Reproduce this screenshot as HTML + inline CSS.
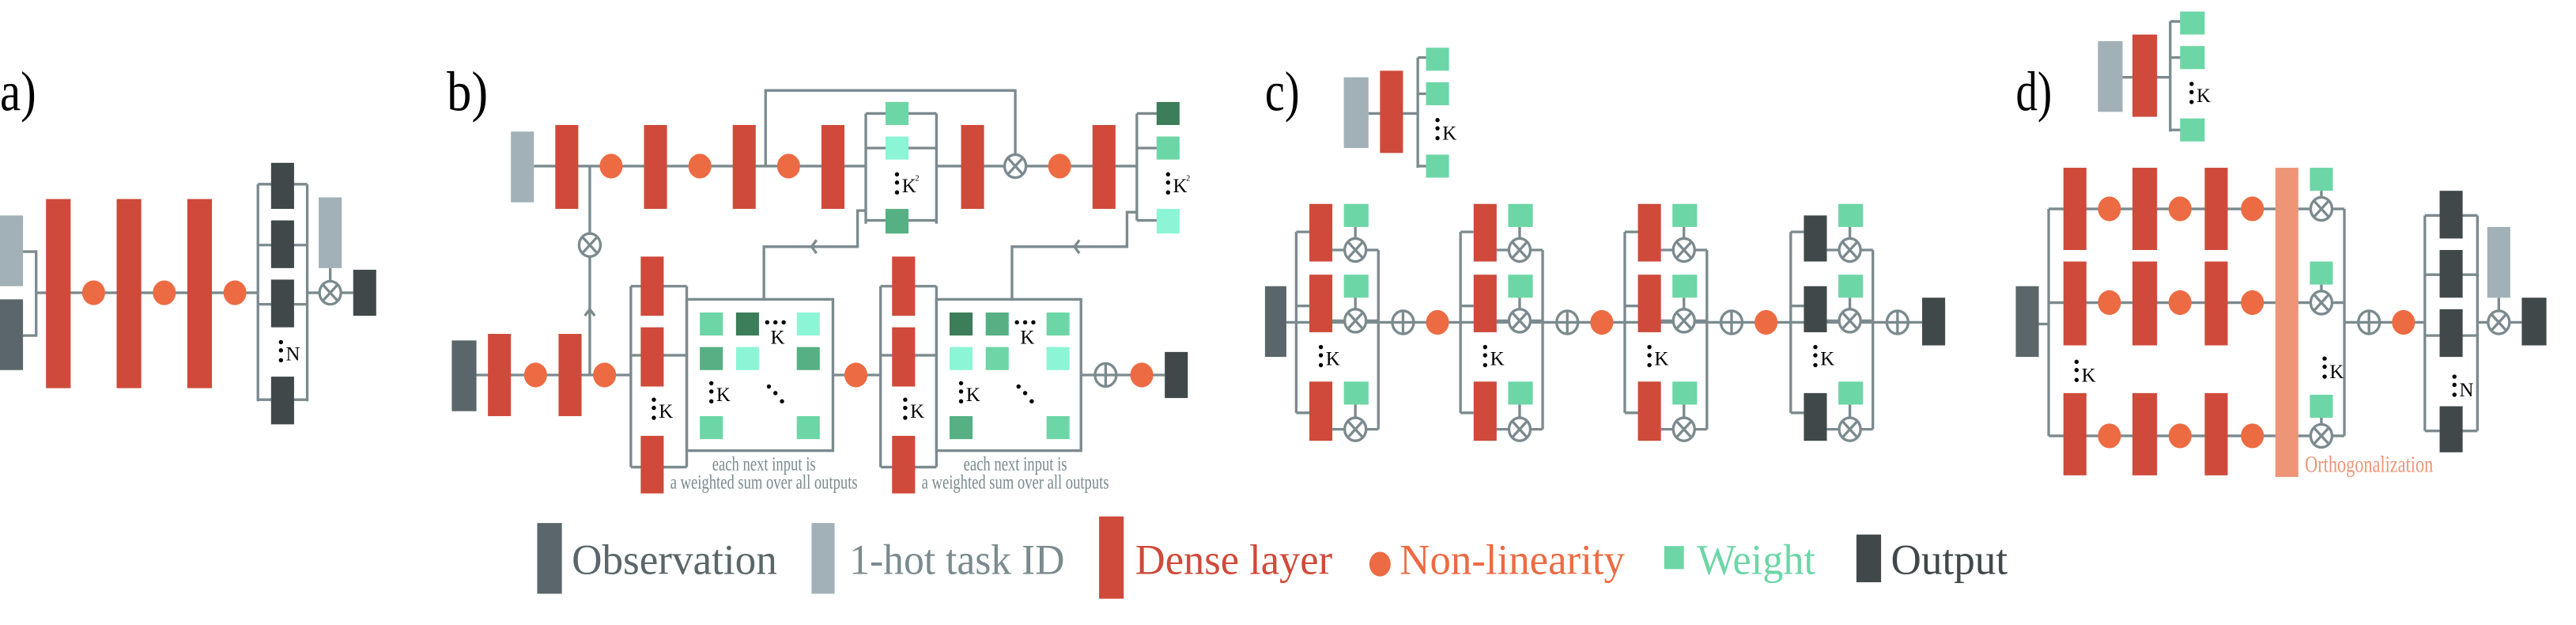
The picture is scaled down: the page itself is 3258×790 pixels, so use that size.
<!DOCTYPE html>
<html><head><meta charset="utf-8"><style>html,body{margin:0;padding:0;background:#fff}svg{display:block}svg text{font-family:"Liberation Serif","DejaVu Serif",serif}</style></head>
<body>
<svg xmlns="http://www.w3.org/2000/svg" xmlns:xlink="http://www.w3.org/1999/xlink" width="3258" height="790" viewBox="0 0 1568 380" preserveAspectRatio="none" style="font-family:'Liberation Serif',serif">
<defs>
<g id="ot"><ellipse rx="6.5" ry="7" fill="#fff" stroke="#7b8a8e" stroke-width="1.6"/><path d="M-4.4,-4.8L4.4,4.8M4.4,-4.8L-4.4,4.8" stroke="#7b8a8e" stroke-width="1.6"/></g>
<g id="op"><ellipse rx="6.5" ry="7" fill="#fff" stroke="#7b8a8e" stroke-width="1.6"/><path d="M0,-7V7M-6.5,0H6.5" stroke="#7b8a8e" stroke-width="1.6"/></g>
<ellipse id="nl" rx="7" ry="7.5" fill="#ec6b43"/>
<g id="vd" fill="#000"><circle cx="0" cy="0" r="1.3"/><circle cx="0" cy="5" r="1.3"/><circle cx="0" cy="11" r="1.3"/></g>
</defs>

<g font-size="34" fill="#000">
<text x="0" y="67" textLength="22" lengthAdjust="spacingAndGlyphs">a)</text>
<text x="272" y="67" textLength="25" lengthAdjust="spacingAndGlyphs">b)</text>
<text x="770" y="67" textLength="21" lengthAdjust="spacingAndGlyphs">c)</text>
<text x="1227" y="67" textLength="22" lengthAdjust="spacingAndGlyphs">d)</text>
</g>

<!-- Panel a -->
<g stroke="#7b8a8e" stroke-width="1.6" fill="none">
<polyline points="14,153 22,153 22,204 14,204"/>
<line x1="22" y1="178" x2="157" y2="178"/>
<line x1="157" y1="112" x2="157" y2="244"/><line x1="187" y1="112" x2="187" y2="244"/>
<path d="M157,112H187M157,149H187M157,185H187M157,243H187"/>
<line x1="187" y1="178" x2="215" y2="178"/>
<line x1="201" y1="163" x2="201" y2="172"/>
</g>
<rect x="0" y="131" width="14" height="43" fill="#a2b1b7"/>
<rect x="0" y="182" width="14" height="43" fill="#5a6669"/>
<g fill="#cf4a3a"><rect x="28" y="121" width="15" height="115"/><rect x="71" y="121" width="15" height="115"/><rect x="114" y="121" width="15" height="115"/></g>
<use xlink:href="#nl" x="57" y="178"/><use xlink:href="#nl" x="100" y="178"/><use xlink:href="#nl" x="143" y="178"/>
<g fill="#40484a"><rect x="165" y="99" width="14" height="28"/><rect x="165" y="134" width="14" height="29"/><rect x="165" y="170" width="14" height="29"/><rect x="165" y="229" width="14" height="29"/><rect x="215" y="164" width="14" height="28"/></g>
<use xlink:href="#vd" x="171" y="208"/><text x="174" y="219" font-size="12">N</text>
<rect x="194" y="120" width="14" height="43" fill="#a2b1b7"/>
<use xlink:href="#ot" x="201" y="178"/>

<!-- Panel b -->
<g stroke="#7b8a8e" stroke-width="1.6" fill="none">
<line x1="325" y1="101" x2="527" y2="101"/><line x1="570" y1="101" x2="692" y2="101"/>
<polyline points="466,101 466,55 618,55 618,94"/>
<line x1="527" y1="69" x2="527" y2="136"/><line x1="570" y1="69" x2="570" y2="136"/>
<path d="M527,69H570M527,90H570M527,134H570"/>
<line x1="692" y1="69" x2="692" y2="134"/>
<path d="M692,69H706M692,90H706M692,134H706"/>
<polyline points="527,128 522,128 522,150 465,150 465,182"/>
<polyline points="692,129 686,129 686,150 616,150 616,182"/>
<path d="M497,146L494,150L497,154M657,146L654,150L657,154"/>
<line x1="359" y1="101" x2="359" y2="228"/>
<path d="M356,192L359,188L362,192"/>
<line x1="290" y1="228" x2="384" y2="228"/>
<line x1="384" y1="174" x2="384" y2="284"/><line x1="418" y1="174" x2="418" y2="284"/>
<path d="M384,174H418M384,216H418M384,284H418"/>
<rect x="418" y="182" width="89" height="92"/>
<line x1="507" y1="228" x2="536" y2="228"/>
<line x1="536" y1="174" x2="536" y2="284"/><line x1="570" y1="174" x2="570" y2="284"/>
<path d="M536,174H570M536,216H570M536,284H570"/>
<rect x="570" y="182" width="88" height="92"/>
<line x1="658" y1="228" x2="709" y2="228"/>
</g>
<rect x="311" y="80" width="14" height="43" fill="#a2b1b7"/>
<g fill="#cf4a3a">
<rect x="338" y="76" width="14" height="51"/><rect x="392" y="76" width="14" height="51"/><rect x="446" y="76" width="14" height="51"/><rect x="500" y="76" width="14" height="51"/><rect x="585" y="76" width="14" height="51"/><rect x="665" y="76" width="14" height="51"/>
<rect x="297" y="203" width="14" height="50"/><rect x="340" y="203" width="14" height="50"/>
<rect x="390" y="156" width="14" height="36"/><rect x="390" y="199" width="14" height="36"/><rect x="390" y="265" width="14" height="35"/>
<rect x="543" y="156" width="14" height="36"/><rect x="543" y="199" width="14" height="36"/><rect x="543" y="265" width="14" height="35"/>
</g>
<use xlink:href="#nl" x="372" y="101"/><use xlink:href="#nl" x="426" y="101"/><use xlink:href="#nl" x="480" y="101"/><use xlink:href="#nl" x="645" y="101"/>
<use xlink:href="#ot" x="618" y="101"/><use xlink:href="#ot" x="359" y="149"/>
<rect x="539" y="62" width="14" height="14" fill="#6dd6a6"/><rect x="539" y="83" width="14" height="14" fill="#8cf5d5"/><rect x="539" y="127" width="14" height="15" fill="#56b083"/>
<use xlink:href="#vd" x="546" y="106"/><text x="549" y="117" font-size="12">K</text><text x="557" y="110" font-size="5">2</text>
<rect x="704" y="62" width="14" height="14" fill="#3c7d5a"/><rect x="704" y="83" width="14" height="14" fill="#6dd6a6"/><rect x="704" y="127" width="14" height="15" fill="#8cf5d5"/>
<use xlink:href="#vd" x="711" y="106"/><text x="714" y="117" font-size="12">K</text><text x="722" y="110" font-size="5">2</text>
<rect x="275" y="207" width="15" height="43" fill="#5a6669"/>
<use xlink:href="#nl" x="326" y="228"/><use xlink:href="#nl" x="368" y="228"/><use xlink:href="#nl" x="521" y="228"/><use xlink:href="#nl" x="695" y="228"/>
<use xlink:href="#op" x="673" y="228"/>
<rect x="709" y="214" width="14" height="28" fill="#40484a"/>
<use xlink:href="#vd" x="398" y="243"/><text x="401" y="254" font-size="12">K</text>
<use xlink:href="#vd" x="551" y="243"/><text x="554" y="254" font-size="12">K</text>
<rect x="426" y="190" width="14" height="14" fill="#6dd6a6"/><rect x="448" y="190" width="14" height="14" fill="#3c7d5a"/><rect x="485" y="190" width="14" height="14" fill="#8cf5d5"/>
<rect x="426" y="211" width="14" height="14" fill="#56b083"/><rect x="448" y="211" width="14" height="14" fill="#8cf5d5"/><rect x="485" y="211" width="14" height="14" fill="#56b083"/>
<rect x="426" y="253" width="14" height="14" fill="#6dd6a6"/><rect x="485" y="253" width="14" height="14" fill="#6dd6a6"/>
<g fill="#000"><circle cx="467" cy="196" r="1.3"/><circle cx="472" cy="196" r="1.3"/><circle cx="477" cy="196" r="1.3"/><circle cx="468" cy="235" r="1.3"/><circle cx="472" cy="239" r="1.3"/><circle cx="476" cy="244" r="1.3"/></g>
<text x="469" y="209" font-size="12">K</text>
<use xlink:href="#vd" x="433" y="233"/><text x="436" y="244" font-size="12">K</text>
<rect x="578" y="190" width="14" height="14" fill="#3c7d5a"/><rect x="600" y="190" width="14" height="14" fill="#56b083"/><rect x="637" y="190" width="14" height="14" fill="#6dd6a6"/>
<rect x="578" y="211" width="14" height="14" fill="#8cf5d5"/><rect x="600" y="211" width="14" height="14" fill="#6dd6a6"/><rect x="637" y="211" width="14" height="14" fill="#8cf5d5"/>
<rect x="578" y="253" width="14" height="14" fill="#56b083"/><rect x="637" y="253" width="14" height="14" fill="#6dd6a6"/>
<g fill="#000"><circle cx="619" cy="196" r="1.3"/><circle cx="624" cy="196" r="1.3"/><circle cx="629" cy="196" r="1.3"/><circle cx="620" cy="235" r="1.3"/><circle cx="624" cy="239" r="1.3"/><circle cx="628" cy="244" r="1.3"/></g>
<text x="621" y="209" font-size="12">K</text>
<use xlink:href="#vd" x="585" y="233"/><text x="588" y="244" font-size="12">K</text>
<g font-size="12" fill="#7b8a8e" text-anchor="middle">
<text x="465" y="286" textLength="63" lengthAdjust="spacingAndGlyphs">each next input is</text>
<text x="465" y="297" textLength="114" lengthAdjust="spacingAndGlyphs">a weighted sum over all outputs</text>
<text x="618" y="286" textLength="63" lengthAdjust="spacingAndGlyphs">each next input is</text>
<text x="618" y="297" textLength="114" lengthAdjust="spacingAndGlyphs">a weighted sum over all outputs</text>
</g>

<!-- Panel c -->
<g stroke="#7b8a8e" stroke-width="1.6" fill="none">
<line x1="833" y1="69" x2="863" y2="69"/><line x1="863" y1="35" x2="863" y2="102"/>
<path d="M863,35H870M863,57H870M863,101H870"/>
<line x1="783" y1="196" x2="1170" y2="196"/>
</g>
<rect x="818" y="47" width="15" height="43" fill="#a2b1b7"/>
<rect x="840" y="43" width="14" height="50" fill="#cf4a3a"/>
<g fill="#6dd6a6"><rect x="868" y="29" width="14" height="14"/><rect x="868" y="50" width="14" height="14"/><rect x="868" y="94" width="14" height="14"/></g>
<use xlink:href="#vd" x="875" y="73"/><text x="878" y="85" font-size="12">K</text>
<rect x="770" y="174" width="13" height="43" fill="#5a6669"/>

<g transform="translate(789,0)">
<g stroke="#7b8a8e" stroke-width="1.6" fill="none">
<line x1="0" y1="141" x2="0" y2="251"/><path d="M0,141H8M0,186H8M0,251H8"/>
<line x1="50" y1="152" x2="50" y2="261"/><path d="M22,152H50M22,195H50M22,261H50"/>
<path d="M36,138V152M36,181V195M36,246V261"/>
</g>
<g fill="#cf4a3a"><rect x="8" y="124" width="14" height="35"/><rect x="8" y="167" width="14" height="35"/><rect x="8" y="232" width="14" height="36"/></g>
<g fill="#6dd6a6"><rect x="29" y="124" width="15" height="14"/><rect x="29" y="167" width="15" height="14"/><rect x="29" y="232" width="15" height="14"/></g>
<use xlink:href="#ot" x="36" y="152"/><use xlink:href="#ot" x="36" y="195"/><use xlink:href="#ot" x="36" y="261"/>
<use xlink:href="#vd" x="15" y="211"/><text x="18" y="222" font-size="12">K</text>
<use xlink:href="#op" x="65" y="196"/><use xlink:href="#nl" x="86" y="196"/>
</g>
<g transform="translate(889,0)">
<g stroke="#7b8a8e" stroke-width="1.6" fill="none">
<line x1="0" y1="141" x2="0" y2="251"/><path d="M0,141H8M0,186H8M0,251H8"/>
<line x1="50" y1="152" x2="50" y2="261"/><path d="M22,152H50M22,195H50M22,261H50"/>
<path d="M36,138V152M36,181V195M36,246V261"/>
</g>
<g fill="#cf4a3a"><rect x="8" y="124" width="14" height="35"/><rect x="8" y="167" width="14" height="35"/><rect x="8" y="232" width="14" height="36"/></g>
<g fill="#6dd6a6"><rect x="29" y="124" width="15" height="14"/><rect x="29" y="167" width="15" height="14"/><rect x="29" y="232" width="15" height="14"/></g>
<use xlink:href="#ot" x="36" y="152"/><use xlink:href="#ot" x="36" y="195"/><use xlink:href="#ot" x="36" y="261"/>
<use xlink:href="#vd" x="15" y="211"/><text x="18" y="222" font-size="12">K</text>
<use xlink:href="#op" x="65" y="196"/><use xlink:href="#nl" x="86" y="196"/>
</g>
<g transform="translate(989,0)">
<g stroke="#7b8a8e" stroke-width="1.6" fill="none">
<line x1="0" y1="141" x2="0" y2="251"/><path d="M0,141H8M0,186H8M0,251H8"/>
<line x1="50" y1="152" x2="50" y2="261"/><path d="M22,152H50M22,195H50M22,261H50"/>
<path d="M36,138V152M36,181V195M36,246V261"/>
</g>
<g fill="#cf4a3a"><rect x="8" y="124" width="14" height="35"/><rect x="8" y="167" width="14" height="35"/><rect x="8" y="232" width="14" height="36"/></g>
<g fill="#6dd6a6"><rect x="29" y="124" width="15" height="14"/><rect x="29" y="167" width="15" height="14"/><rect x="29" y="232" width="15" height="14"/></g>
<use xlink:href="#ot" x="36" y="152"/><use xlink:href="#ot" x="36" y="195"/><use xlink:href="#ot" x="36" y="261"/>
<use xlink:href="#vd" x="15" y="211"/><text x="18" y="222" font-size="12">K</text>
<use xlink:href="#op" x="65" y="196"/><use xlink:href="#nl" x="86" y="196"/>
</g>
<g transform="translate(1090,0)">
<g stroke="#7b8a8e" stroke-width="1.6" fill="none">
<line x1="0" y1="141" x2="0" y2="251"/><path d="M0,141H8M0,186H8M0,251H8"/>
<line x1="50" y1="152" x2="50" y2="261"/><path d="M22,152H50M22,195H50M22,261H50"/>
<path d="M36,138V152M36,181V195M36,246V261"/>
</g>
<g fill="#40484a"><rect x="8" y="131" width="14" height="28"/><rect x="8" y="174" width="14" height="28"/><rect x="8" y="239" width="14" height="29"/></g>
<g fill="#6dd6a6"><rect x="29" y="124" width="15" height="14"/><rect x="29" y="167" width="15" height="14"/><rect x="29" y="232" width="15" height="14"/></g>
<use xlink:href="#ot" x="36" y="152"/><use xlink:href="#ot" x="36" y="195"/><use xlink:href="#ot" x="36" y="261"/>
<use xlink:href="#vd" x="15" y="211"/><text x="18" y="222" font-size="12">K</text>
<use xlink:href="#op" x="65" y="196"/>
</g>
<rect x="1170" y="181" width="14" height="29" fill="#40484a"/>

<!-- Panel d -->
<g stroke="#7b8a8e" stroke-width="1.6" fill="none">
<line x1="1292" y1="47" x2="1321" y2="47"/><line x1="1321" y1="13" x2="1321" y2="80"/>
<path d="M1321,13H1328M1321,35H1328M1321,79H1328"/>
<line x1="1241" y1="197" x2="1247" y2="197"/>
<line x1="1247" y1="127" x2="1247" y2="265"/>
<path d="M1247,127H1427M1247,184H1427M1247,265H1427"/>
<path d="M1413,116V127M1413,173V184M1413,254V265"/>
<line x1="1427" y1="127" x2="1427" y2="265"/>
<line x1="1427" y1="196" x2="1476" y2="196"/>
<line x1="1476" y1="131" x2="1476" y2="262"/><line x1="1508" y1="131" x2="1508" y2="262"/>
<path d="M1476,131H1508M1476,167H1508M1476,204H1508M1476,262H1508"/>
<line x1="1508" y1="196" x2="1535" y2="196"/>
<line x1="1521" y1="181" x2="1521" y2="190"/>
</g>
<rect x="1277" y="25" width="15" height="43" fill="#a2b1b7"/>
<rect x="1298" y="21" width="15" height="50" fill="#cf4a3a"/>
<g fill="#6dd6a6"><rect x="1327" y="7" width="15" height="14"/><rect x="1327" y="28" width="15" height="14"/><rect x="1327" y="72" width="15" height="14"/></g>
<use xlink:href="#vd" x="1334" y="51"/><text x="1337" y="62" font-size="12">K</text>
<rect x="1227" y="174" width="14" height="43" fill="#5a6669"/>
<g fill="#cf4a3a">
<rect x="1256" y="102" width="14" height="50"/><rect x="1298" y="102" width="15" height="50"/><rect x="1342" y="102" width="14" height="50"/>
<rect x="1256" y="159" width="14" height="51"/><rect x="1298" y="159" width="15" height="51"/><rect x="1342" y="159" width="14" height="51"/>
<rect x="1256" y="239" width="14" height="50"/><rect x="1298" y="239" width="15" height="50"/><rect x="1342" y="239" width="14" height="50"/>
</g>
<use xlink:href="#nl" x="1284" y="127"/><use xlink:href="#nl" x="1327" y="127"/><use xlink:href="#nl" x="1371" y="127"/>
<use xlink:href="#nl" x="1284" y="184"/><use xlink:href="#nl" x="1327" y="184"/><use xlink:href="#nl" x="1371" y="184"/>
<use xlink:href="#nl" x="1284" y="265"/><use xlink:href="#nl" x="1327" y="265"/><use xlink:href="#nl" x="1371" y="265"/>
<rect x="1385" y="102" width="14" height="188" fill="#ee9577"/>
<g fill="#6dd6a6"><rect x="1406" y="102" width="14" height="14"/><rect x="1406" y="159" width="14" height="14"/><rect x="1406" y="240" width="14" height="14"/></g>
<use xlink:href="#ot" x="1413" y="127"/><use xlink:href="#ot" x="1413" y="184"/><use xlink:href="#ot" x="1413" y="265"/>
<use xlink:href="#vd" x="1415" y="218"/><text x="1418" y="230" font-size="12">K</text>
<use xlink:href="#vd" x="1264" y="220"/><text x="1267" y="232" font-size="12">K</text>
<text x="1403" y="287" font-size="14" fill="#ee9577" textLength="78" lengthAdjust="spacingAndGlyphs">Orthogonalization</text>
<use xlink:href="#op" x="1442" y="196"/><use xlink:href="#nl" x="1463" y="196"/>
<g fill="#40484a"><rect x="1485" y="116" width="14" height="29"/><rect x="1485" y="152" width="14" height="29"/><rect x="1485" y="188" width="14" height="29"/><rect x="1485" y="247" width="14" height="28"/><rect x="1535" y="181" width="15" height="29"/></g>
<use xlink:href="#vd" x="1494" y="229"/><text x="1497" y="241" font-size="12">N</text>
<rect x="1514" y="138" width="14" height="43" fill="#a2b1b7"/>
<use xlink:href="#ot" x="1521" y="196"/>

<!-- Legend -->
<g font-size="26">
<rect x="327" y="318" width="15" height="43" fill="#5a6669"/>
<text x="348" y="349" fill="#5a6669" textLength="125" lengthAdjust="spacingAndGlyphs">Observation</text>
<rect x="494" y="318" width="14" height="43" fill="#a2b1b7"/>
<text x="517" y="349" fill="#7b8a8e" textLength="131" lengthAdjust="spacingAndGlyphs">1-hot task ID</text>
<rect x="669" y="314" width="15" height="50" fill="#cf4a3a"/>
<text x="691" y="349" fill="#cf4a3a" textLength="120" lengthAdjust="spacingAndGlyphs">Dense layer</text>
<ellipse cx="840" cy="343" rx="6.5" ry="7.5" fill="#ec6b43"/>
<text x="852" y="349" fill="#ec6b43" textLength="137" lengthAdjust="spacingAndGlyphs">Non-linearity</text>
<rect x="1013" y="332" width="12" height="14" fill="#6dd6a6"/>
<text x="1033" y="349" fill="#6dd6a6" textLength="72" lengthAdjust="spacingAndGlyphs">Weight</text>
<rect x="1130" y="325" width="15" height="29" fill="#40484a"/>
<text x="1151" y="349" fill="#40484a" textLength="71" lengthAdjust="spacingAndGlyphs">Output</text>
</g>
</svg>
</body></html>
